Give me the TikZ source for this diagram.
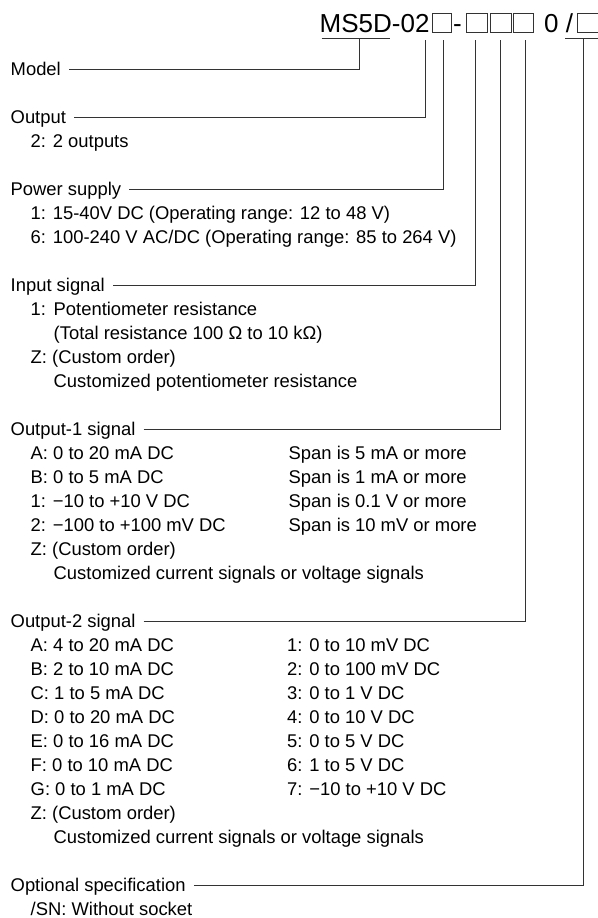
\documentclass[tikz,border=0pt]{standalone}
\usepackage{fontspec}
\setmainfont{Liberation Sans}

\tikzset{
  lbl/.style={anchor=base west, inner sep=0pt, font=\fontsize{18.4}{22}\selectfont},
  tag/.style={lbl, text height=13pt, text depth=0pt},
  head/.style={anchor=base west, inner sep=0pt, font=\fontsize{26}{30}\selectfont},
  conn/.style={line width=0.9pt, draw=black!80},
  slot/.style={draw=black!80, line width=0.9pt, inner sep=0pt, minimum height=19pt, anchor=south west}
}

\begin{document}
\begin{tikzpicture}[x=1pt, y=-1pt]
  \useasboundingbox (0,0) rectangle (597,918);

  % model code
  \node[head] (code) at (319.5,32.5) {MS5D-02};
  \node[slot, minimum width=19pt] (s1) at (432,33) {};
  \node[head] (dash) at (453,32.5) {-};
  \node[slot, minimum width=21pt] (s2) at (466,33) {};
  \node[slot, minimum width=21.5pt] (s3) at (489.5,33) {};
  \node[slot, minimum width=20pt] (s4) at (513,33) {};
  \node[head] (zero) at (544,32.5) {0 /};
  \node[slot, minimum width=24pt] (s5) at (577,33) {};
  \draw[conn] (321.7,38.3) -- (390,38.3);
  \draw[conn] (565,38.3) -- (600,38.3);

  \coordinate (pModel) at (359.3,38.3);
  \coordinate (pOut) at (425,40);
  \coordinate (pPow) at (443.3,40);
  \coordinate (pIn) at (475,40);
  \coordinate (pOne) at (500,40);
  \coordinate (pTwo) at (525,40);
  \coordinate (pOpt) at (583.3,38.3);

  % section titles
  \node[tag] (model) at (10.5,75.7) {Model};
  \node[tag] (output) at (10.5,75.7+24*2) {Output};
  \node[tag] (power) at (10.5,75.7+24*5) {Power supply};
  \node[tag] (input) at (10.5,75.7+24*9) {Input signal};
  \node[tag] (outone) at (10.5,75.7+24*15) {Output-1 signal};
  \node[tag] (outtwo) at (10.5,75.7+24*23) {Output-2 signal};
  \node[tag] (option) at (10.5,75.7+24*34) {Optional specification};

  \draw[conn] ([xshift=8pt]model.east) -| (pModel);
  \draw[conn] ([xshift=8pt]output.east) -| (pOut);
  \draw[conn] ([xshift=8pt]power.east) -| (pPow);
  \draw[conn] ([xshift=8pt]input.east) -| (pIn);
  \draw[conn] ([xshift=8pt]outone.east) -| (pOne);
  \draw[conn] ([xshift=8pt]outtwo.east) -| (pTwo);
  \draw[conn] ([xshift=8pt]option.east) -| (pOpt);

  % output
  \node[lbl] (out-a) at (30.5,75.7+24*3) {2: 2 outputs};

  % power supply
  \node[lbl] (pow-a) at (30.5,75.7+24*6) {1: 15-40V DC (Operating range: 12 to 48 V)};
  \node[lbl] (pow-b) at (30.5,75.7+24*7) {6: 100-240 V AC/DC (Operating range: 85 to 264 V)};

  % input signal
  \node[lbl] (in-a) at (30.5,75.7+24*10) {1:};
  \node[lbl] (in-b) at (53.5,75.7+24*10) {Potentiometer resistance};
  \node[lbl] (in-c) at (53.5,75.7+24*11) {(Total resistance 100 Ω to 10 kΩ)};
  \node[lbl] (in-d) at (30.5,75.7+24*12) {Z: (Custom order)};
  \node[lbl] (in-e) at (53.5,75.7+24*13) {Customized potentiometer resistance};

  % output-1 signal
  \foreach \a/\b [count=\i from 16] in {A: 0 to 20 mA DC/Span is 5 mA or more,
      B: 0 to 5 mA DC/Span is 1 mA or more, 1: −10 to +10 V DC/Span is 0.1 V or more,
      2: −100 to +100 mV DC/Span is 10 mV or more} {
    \node[lbl] (one-\i) at (30.5,75.7+24*\i) {\a};
    \node[lbl] (span-\i) at (288.5,75.7+24*\i) {\b};
  }
  \node[lbl] (one-z) at (30.5,75.7+24*20) {Z: (Custom order)};
  \node[lbl] (one-c) at (53.5,75.7+24*21) {Customized current signals or voltage signals};

  % output-2 signal
  \foreach \a/\b [count=\i from 24] in {A: 4 to 20 mA DC/1: 0 to 10 mV DC,
      B: 2 to 10 mA DC/2: 0 to 100 mV DC, C: 1 to 5 mA DC/3: 0 to 1 V DC,
      D: 0 to 20 mA DC/4: 0 to 10 V DC, E: 0 to 16 mA DC/5: 0 to 5 V DC,
      F: 0 to 10 mA DC/6: 1 to 5 V DC, G: 0 to 1 mA DC/7: −10 to +10 V DC} {
    \node[lbl] (cur-\i) at (30.5,75.7+24*\i) {\a};
    \node[lbl] (vol-\i) at (287,75.7+24*\i) {\b};
  }
  \node[lbl] (two-z) at (30.5,75.7+24*31) {Z: (Custom order)};
  \node[lbl] (two-c) at (53.5,75.7+24*32) {Customized current signals or voltage signals};

  % optional specification
  \node[lbl] (opt-a) at (30.5,75.7+24*35) {/SN: Without socket};
\end{tikzpicture}
\end{document}
